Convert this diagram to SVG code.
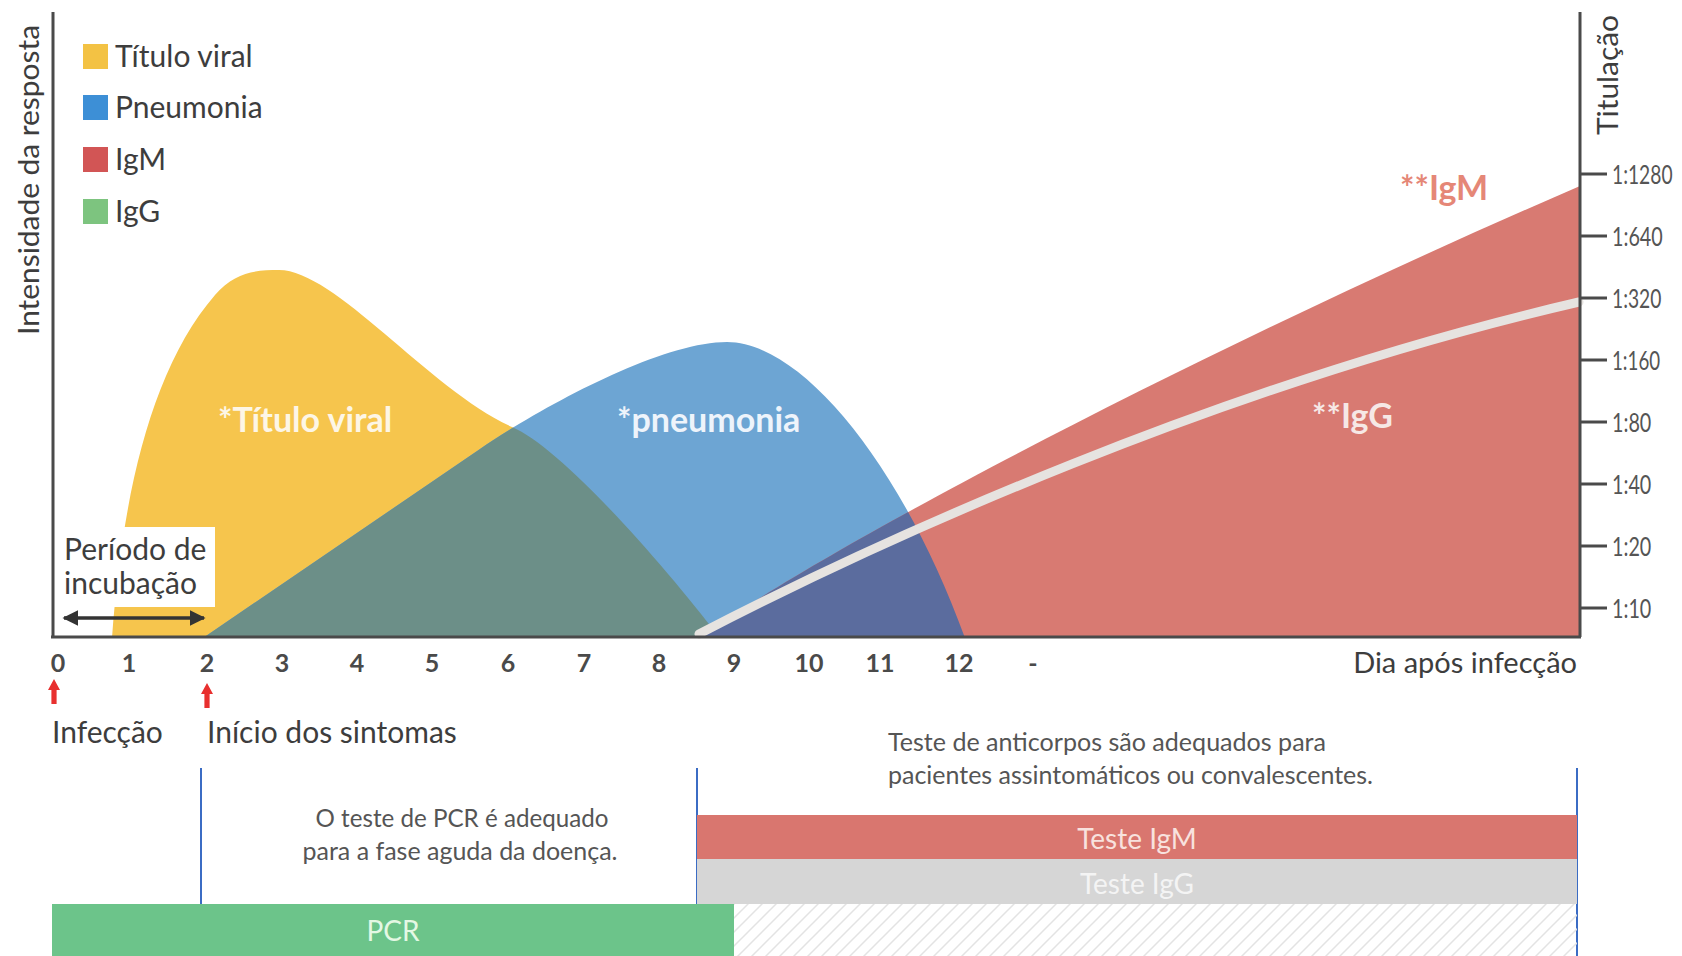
<svg xmlns="http://www.w3.org/2000/svg" width="1682" height="956" viewBox="0 0 1682 956">
<defs>
<style>
text{font-family:Lato,"Open Sans","Liberation Sans",sans-serif}
.lbl{font-size:30px;fill:#3d3d3d}
.tick{font-size:25px;font-weight:bold;fill:#4a4a4a;text-anchor:middle}
.ytick{font-size:26px;fill:#555}
.note{font-size:25px;fill:#555}
.big{font-size:34px;font-weight:bold}
.bar{font-size:28px;text-anchor:middle}
.axis{stroke:#4a4a4a;stroke-width:3;fill:none}
.vline{stroke:#3b6cc4;stroke-width:2;fill:none}
</style>
<marker id="ah" viewBox="0 0 10 10" refX="9" refY="5" markerWidth="4.5" markerHeight="4.5" orient="auto-start-reverse"><path d="M0,0 L10,5 L0,10 z" fill="#333"/></marker>
<pattern id="hatch" width="14" height="14" patternUnits="userSpaceOnUse"><path d="M-2,2 L2,-2 M0,14 L14,0 M12,16 L16,12" stroke="#e3e3e3" stroke-width="1.5"/></pattern>
<clipPath id="clipBlue"><path d="M203,638 L480,449 C540,408 660,342 727,342 C800,342 900,460 965,638 Z"/></clipPath>
</defs>
<rect width="1682" height="956" fill="#fff"/>

<g id="curves">
<path id="yellow" d="M112,638 C122,500 150,370 215,295 C235,272 255,270 279,270 C335,270 430,390 512,427 C560,447 660,560 720,638 Z" fill="#f6c54d"/>
<path id="blue" d="M203,638 L480,449 C540,408 660,342 727,342 C800,342 900,460 965,638 Z" fill="#6da5d3"/>
<path id="red" d="M700,638 C820,550 1200,350 1580,186 L1580,638 Z" fill="#d87a72"/>
<path id="teal" clip-path="url(#clipBlue)" d="M112,638 C122,500 150,370 215,295 C235,272 255,270 279,270 C335,270 430,390 512,427 C560,447 660,560 720,638 Z" fill="#6c8f88"/>
<path id="navy" clip-path="url(#clipBlue)" d="M700,638 C820,550 1200,350 1580,186 L1580,638 Z" fill="#5b6c9e"/>
<path id="iggline" d="M699,634 C880,540 1220,385 1579,302" fill="none" stroke="#e6e3e0" stroke-width="9" stroke-linecap="round"/>
</g>

<g id="incubation">
<rect x="57" y="527" width="158" height="80" fill="#fff"/>
<text class="lbl" x="64" y="560">Período de</text>
<text class="lbl" x="64" y="594">incubação</text>
</g>

<g id="plot-labels">
<text class="big" x="218" y="432" fill="#fdf6e6">*Título viral</text>
<text class="big" x="617" y="432" fill="#eef4fb">*pneumonia</text>
<text class="big" x="1312" y="428" fill="#f6e8e6">**IgG</text>
<text class="big" x="1400" y="200" fill="#e58777">**IgM</text>
</g>

<g id="legend">
<rect x="83" y="44" width="25" height="25" fill="#f3c244"/>
<text class="lbl" x="115" y="67">Título viral</text>
<rect x="83" y="95" width="25" height="25" fill="#3d8fd6"/>
<text class="lbl" x="115" y="118">Pneumonia</text>
<rect x="83" y="147" width="25" height="25" fill="#d25555"/>
<text class="lbl" x="115" y="170">IgM</text>
<rect x="83" y="199" width="25" height="25" fill="#7dc47f"/>
<text class="lbl" x="115" y="222">IgG</text>
</g>

<g id="axes">
<path class="axis" d="M53,12 V637 M51,637 H1581 M1580,12 V637"/>
<path class="axis" d="M1580,174 H1607 M1580,236 H1607 M1580,298 H1607 M1580,360 H1607 M1580,422 H1607 M1580,484 H1607 M1580,546 H1607 M1580,608 H1607"/>
<text class="lbl" transform="translate(39,180) rotate(-90)" text-anchor="middle" style="font-size:28px" textLength="310" lengthAdjust="spacingAndGlyphs">Intensidade da resposta</text>
<text class="lbl" transform="translate(1618,75) rotate(-90)" text-anchor="middle" style="font-size:28px" textLength="120" lengthAdjust="spacingAndGlyphs">Titulação</text>
<g id="yticks">
<text class="ytick" transform="translate(1612,184) scale(0.74,1)">1:1280</text>
<text class="ytick" transform="translate(1612,246) scale(0.76,1)">1:640</text>
<text class="ytick" transform="translate(1612,308) scale(0.74,1)">1:320</text>
<text class="ytick" transform="translate(1612,370) scale(0.72,1)">1:160</text>
<text class="ytick" transform="translate(1612,432) scale(0.76,1)">1:80</text>
<text class="ytick" transform="translate(1612,494) scale(0.76,1)">1:40</text>
<text class="ytick" transform="translate(1612,556) scale(0.76,1)">1:20</text>
<text class="ytick" transform="translate(1612,618) scale(0.76,1)">1:10</text>
</g>
<g id="xticks">
<text class="tick" x="58" y="672">0</text>
<text class="tick" x="129" y="672">1</text>
<text class="tick" x="207" y="672">2</text>
<text class="tick" x="282" y="672">3</text>
<text class="tick" x="357" y="672">4</text>
<text class="tick" x="432" y="672">5</text>
<text class="tick" x="508" y="672">6</text>
<text class="tick" x="584" y="672">7</text>
<text class="tick" x="659" y="672">8</text>
<text class="tick" x="734" y="672">9</text>
<text class="tick" x="809" y="672">10</text>
<text class="tick" x="880" y="672">11</text>
<text class="tick" x="959" y="672">12</text>
<text class="tick" x="1033" y="672">-</text>
</g>
<text class="lbl" x="1577" y="673" text-anchor="end" style="font-size:29px">Dia após infecção</text>
</g>

<g id="events">
<text class="lbl" x="52" y="743">Infecção</text>
<text class="lbl" x="207" y="743">Início dos sintomas</text>
</g>

<g id="connectors">
<line x1="64" y1="618" x2="204" y2="618" stroke="#333" stroke-width="3.5" marker-start="url(#ah)" marker-end="url(#ah)"/>
<polygon points="54,679 60,690 56.6,690 56.6,704 51.4,704 51.4,690 48,690" fill="#e8302f"/>
<polygon points="207,683 213,694 209.6,694 209.6,708 204.4,708 204.4,694 201,694" fill="#e8302f"/>
<path class="vline" d="M201,768 V905 M697,768 V956 M1577,768 V956"/>
</g>

<g id="tests">
<text class="note" x="462" y="827" text-anchor="middle" textLength="293" lengthAdjust="spacingAndGlyphs">O teste de PCR é adequado</text>
<text class="note" x="460" y="860" text-anchor="middle" textLength="315" lengthAdjust="spacingAndGlyphs">para a fase aguda da doença.</text>
<text class="note" x="888" y="751" textLength="438" lengthAdjust="spacingAndGlyphs">Teste de anticorpos são adequados para</text>
<text class="note" x="888" y="784" textLength="485" lengthAdjust="spacingAndGlyphs">pacientes assintomáticos ou convalescentes.</text>
<g id="bar-igm"><rect x="697" y="815" width="880" height="44" fill="#d9766f"/><text class="bar" x="1137" y="849" fill="#f8e2de">Teste IgM</text></g>
<g id="bar-igg"><rect x="697" y="859" width="880" height="45" fill="#d6d6d6"/><text class="bar" x="1137" y="894" fill="#f4f4f4">Teste IgG</text></g>
<g id="bar-hatch"><rect x="734" y="904" width="843" height="52" fill="url(#hatch)"/></g>
<g id="bar-pcr"><rect x="52" y="904" width="682" height="52" fill="#6cc48a"/><text class="bar" x="393" y="941" fill="#e4f8e4">PCR</text></g>
</g>
</svg>
